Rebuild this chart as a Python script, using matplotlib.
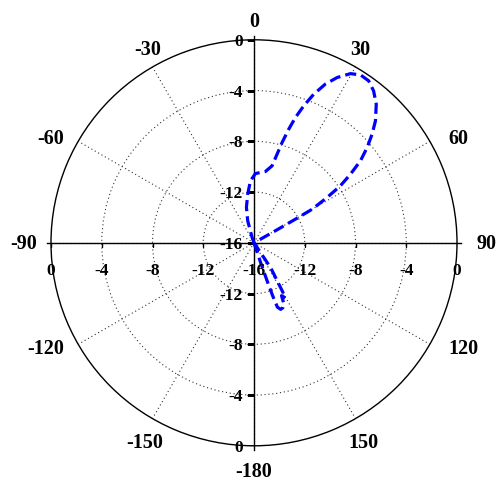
"""
Polar radiation pattern (gain in dB), Origin-style layout.
"""

import numpy as np
import matplotlib.pyplot as plt
from matplotlib.markers import TICKLEFT, TICKDOWN
from matplotlib.transforms import offset_copy

plt.rcParams["font.family"] = ["Liberation Serif", "DejaVu Serif"]
plt.rcParams["font.weight"] = "bold"

# pattern (deg, dB); -16 = at/below the centre
angle_deg = [-180, -21, -19.7, -16, -12.1, -7.4, -3.3, 1.2, 9.1, 13.2, 14.6,
             15.65, 17.0, 18.3, 19.95, 21.9, 24.2, 26.7, 29.7, 32.4, 35.3,
             38.2, 41.4, 44.9, 47.4, 49.9, 52.4, 54.6, 56.6, 58.2, 60.0,
             60.3, 60.6, 61.0, 61.5,
             144, 146.3, 149, 149.6, 150.3, 152.5, 154, 156, 158.2, 160,
             160.6, 161, 161.5, 162.5, 180]
gain_db = [-16, -16, -15.55, -14.2, -13.15, -12.14, -11.11, -10.54, -10.31, -9.77, -8.78,
           -7.79, -6.64, -5.6, -4.52, -3.38, -2.29, -1.42, -0.65, -0.33, -0.36,
           -0.76, -1.43, -2.44, -3.36, -4.34, -5.41, -6.68, -7.85, -9.22, -10.71,
           -12.24, -13.89, -15.4, -16,
           -16, -13.6, -12.2, -11.6, -11.0, -11.3, -10.6, -10.4, -10.35, -10.6,
           -11.55, -12.8, -14.45, -16, -16]

angle_ticks = [0, 30, 60, 90, 120, 150, 180, 210, 240, 270, 300, 330]
angle_labels = ["0", "30", "60", "90", "120", "150", "-180", "-150", "-120", "-90", "-60", "-30"]

r_rings = [-12, -8, -4]
r_upper = [0, -4, -8, -12, -16]
r_lower = [-12, -8, -4, 0]
r_left = [0, -4, -8, -12]
r_right = [-12, -8, -4, 0]

R_MIN, R_MAX = -16, 0

fig = plt.figure(figsize=(4.98, 4.81), dpi=100)
ax = fig.add_axes([0.1024, 0.0711, 0.8153, 0.8441], projection="polar")
ax.set_theta_zero_location("N")
ax.set_theta_direction(-1)
ax.set_ylim(R_MIN, R_MAX)

ax.set_xticks(np.deg2rad(angle_ticks))
ax.set_xticklabels([])
ax.tick_params(axis="x", direction="inout", length=5, width=0.8, pad=0)
ax.set_yticks(r_rings)
ax.set_yticklabels([])
ax.grid(True, color="0.2", linestyle=(0, (1, 2.5)), linewidth=0.8)
ax.spines["polar"].set_linewidth(1.0)

# solid axis lines through the centre
ext = 0.3
for t in (0, np.pi / 2):
    ax.plot([t, t, t + np.pi, t + np.pi], [ext, R_MIN, R_MIN, ext],
            color="k", lw=1.0, clip_on=False, zorder=3)

# small ticks on the axis lines
ax.plot([0] * len(r_upper), r_upper, ls="none", marker=TICKLEFT, ms=5, mew=1, color="k")
ax.plot([np.pi] * len(r_lower), r_lower, ls="none", marker=TICKLEFT, ms=5, mew=1, color="k")
ax.plot([np.pi / 2] * len(r_right), r_right, ls="none", marker=TICKDOWN, ms=3, mew=1, color="k")
ax.plot([3 * np.pi / 2] * len(r_left), r_left, ls="none", marker=TICKDOWN, ms=3, mew=1, color="k")

# data
ax.plot(np.deg2rad(angle_deg), gain_db, color="#0000ff", lw=2.3,
        linestyle=(0, (3.5, 1.6)), zorder=4)

# angle labels outside the rim
for a, lab in zip(angle_ticks, angle_labels):
    s, c = np.sin(np.deg2rad(a)), np.cos(np.deg2rad(a))
    if s > 0.6:
        ha, va, dx, dy = "left", "center", 19, 7 * c
    elif s < -0.6:
        ha, va, dx, dy = "right", "center", -14, 7 * c
    elif c > 0:
        ha, va, dx, dy = "center", "bottom", 9 * s, 9 * c
    else:
        ha, va, dx, dy = "center", "top", 15 * s, 15 * c
    tr = offset_copy(ax.transData, fig=fig, x=dx, y=dy, units="dots")
    ax.text(np.deg2rad(a), R_MAX, lab, transform=tr, ha=ha, va=va,
            fontsize=14.5, fontweight="bold", clip_on=False)

# radial labels along the axis lines
lab_kw = dict(fontsize=12.5, fontweight="bold", zorder=5)
tr_v = offset_copy(ax.transData, fig=fig, x=-11, y=-1, units="dots")
tr_h = offset_copy(ax.transData, fig=fig, x=0, y=-19, units="dots")
for r in r_upper:
    ax.text(0, r, f"{r:g}", transform=tr_v, ha="right", va="center", **lab_kw)
for r in r_lower:
    ax.text(np.pi, r, f"{r:g}", transform=tr_v, ha="right", va="center", **lab_kw)
for r in r_left:
    ax.text(3 * np.pi / 2, r, f"{r:g}", transform=tr_h, ha="center", va="top", **lab_kw)
for r in r_right:
    ax.text(np.pi / 2, r, f"{r:g}", transform=tr_h, ha="center", va="top", **lab_kw)
ax.text(0, R_MIN, "-16", transform=tr_h, ha="center", va="top", **lab_kw)

fig.savefig("out.png", dpi=100)
